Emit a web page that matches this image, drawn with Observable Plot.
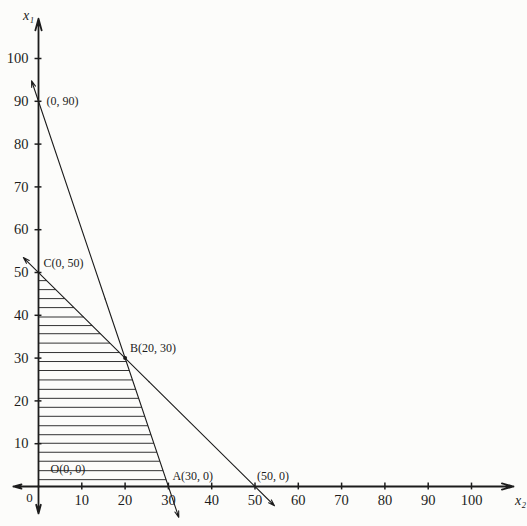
<!DOCTYPE html>
<html>
<head>
<meta charset="utf-8">
<script src="https://cdn.jsdelivr.net/npm/d3@7"></script>
<script src="https://cdn.jsdelivr.net/npm/@observablehq/plot@0.6"></script>
<style>
  html, body { margin: 0; padding: 0; background: #fcfcfa; }
  #chart svg { display: block; background: #fcfcfa; }
</style>
</head>
<body>
<div id="chart"></div>
<script>
// Tick values on both axes
const xTicks = [10, 20, 30, 40, 50, 60, 70, 80, 90, 100];
const yTicks = [10, 20, 30, 40, 50, 60, 70, 80, 90, 100];

// Corner points of the feasible region
const vertexNames = ["O(0, 0)", "A(30, 0)", "B(20, 30)", "C(0, 50)"];
const vertexX = [0, 30, 20, 0];
const vertexY = [0, 0, 30, 50];

// Intercepts labelled separately
const interceptNames = ["(0, 90)", "(50, 0)"];
const interceptX = [0, 50];
const interceptY = [90, 0];

// Constraint lines (x2 horizontal, x1 vertical): 3·x2 + x1 = 90 and x2 + x1 = 50
const lineNames = ["3x2 + x1 = 90", "x2 + x1 = 50"];
const lineStartX = [-1.6, -3.5];
const lineStartY = [94.8, 53.5];
const lineEndX = [32.4, 54.5];
const lineEndY = [-7.2, -4.5];

// Heights of the horizontal hatch lines inside the feasible region
const hatchY = [1.6, 3.7, 5.9, 8.0, 10.1, 12.1, 14.2, 16.4, 18.5, 20.6, 22.7, 24.9,
                27.1, 29.2, 31.3, 33.5, 35.7, 37.6, 39.6, 41.8, 43.9, 46.0, 48.1];

// Axis extents (arrow tips)
const axisMin = [-5.8, -6.3];
const axisMax = [109.7, 109.3];

const ink = "#1c1c1c";
const font = "Liberation Serif, Times New Roman, serif";

const lines = lineNames.map((n, i) => ({
  n, x1: lineStartX[i], y1: lineStartY[i], x2: lineEndX[i], y2: lineEndY[i],
  mx: (lineStartX[i] + lineEndX[i]) / 2, my: (lineStartY[i] + lineEndY[i]) / 2
}));
const vertices = vertexNames.map((n, i) => ({n, x: vertexX[i], y: vertexY[i]}));
const intercepts = interceptNames.map((n, i) => ({n, x: interceptX[i], y: interceptY[i]}));
const hatch = hatchY.map(y => ({y, x1: 0, x2: Math.min((90 - y) / 3, 50 - y)}));

const axes = [
  {x1: 0, y1: 0, x2: axisMax[0], y2: 0},
  {x1: 0, y1: 0, x2: axisMin[0], y2: 0},
  {x1: 0, y1: 0, x2: 0, y2: axisMax[1]},
  {x1: 0, y1: 0, x2: 0, y2: axisMin[1]}
];

const labelOffsets = {
  "O(0, 0)": [12, -17], "A(30, 0)": [4, -10], "B(20, 30)": [5, -10], "C(0, 50)": [5, -9],
  "(0, 90)": [8, 0], "(50, 0)": [2, -10]
};

const chart = Plot.plot({
  width: 527,
  height: 526,
  marginLeft: 38,
  marginRight: 56,
  marginTop: 58,
  marginBottom: 40,
  x: {domain: [0, 100], axis: null},
  y: {domain: [0, 100], axis: null},
  style: {fontFamily: font, background: "#fcfcfa", color: ink},
  marks: [
    // hatching
    Plot.link(hatch, {x1: "x1", x2: "x2", y1: "y", y2: "y", stroke: ink, strokeWidth: 0.9}),
    // constraint lines, arrows at both ends
    Plot.arrow(lines, {x1: "mx", y1: "my", x2: "x1", y2: "y1", stroke: ink, strokeWidth: 1.1, headLength: 9, headAngle: 35}),
    Plot.arrow(lines, {x1: "mx", y1: "my", x2: "x2", y2: "y2", stroke: ink, strokeWidth: 1.1, headLength: 9, headAngle: 35}),
    // axes
    Plot.arrow(axes, {x1: "x1", y1: "y1", x2: "x2", y2: "y2", stroke: ink, strokeWidth: 1.8, headLength: 10, headAngle: 30}),
    // tick marks crossing the axes
    Plot.ruleX(xTicks, {x: d => d, y1: () => -0.8, y2: () => 0.8, stroke: ink, strokeWidth: 1.5}),
    Plot.ruleY(yTicks, {y: d => d, x1: () => -0.8, x2: () => 0.8, stroke: ink, strokeWidth: 1.5}),
    // tick labels
    Plot.axisX({ticks: xTicks, tickSize: 0, tickPadding: 8, fontSize: 14.5, label: null, tickFormat: d => String(d)}),
    Plot.axisY({ticks: yTicks, tickSize: 0, tickPadding: 10, fontSize: 14.5, label: null, tickFormat: d => String(d)}),
    Plot.text([0], {x: () => 0, y: () => 0, text: () => "0", dx: -9, dy: 11, fontSize: 13, fill: ink}),
    // axis names
    Plot.text([0], {x: () => 0, y: () => axisMax[1], text: () => "x₁", dx: -10, dy: -3, fontSize: 14, fontStyle: "italic", fill: ink}),
    Plot.text([0], {x: () => axisMax[0], y: () => 0, text: () => "x₂", dx: 7, dy: 14, fontSize: 14, fontStyle: "italic", fill: ink}),
    // corner B dot
    Plot.dot(vertices.filter(d => d.n.startsWith("B")), {x: "x", y: "y", r: 2, fill: ink}),
    // corner and intercept labels
    ...vertices.concat(intercepts).map(d => Plot.text([d], {x: "x", y: "y", text: "n", textAnchor: "start",
      fontSize: 12, fill: ink, dx: labelOffsets[d.n][0], dy: labelOffsets[d.n][1]}))
  ]
});
document.getElementById("chart").append(chart);
</script>
</body>
</html>
